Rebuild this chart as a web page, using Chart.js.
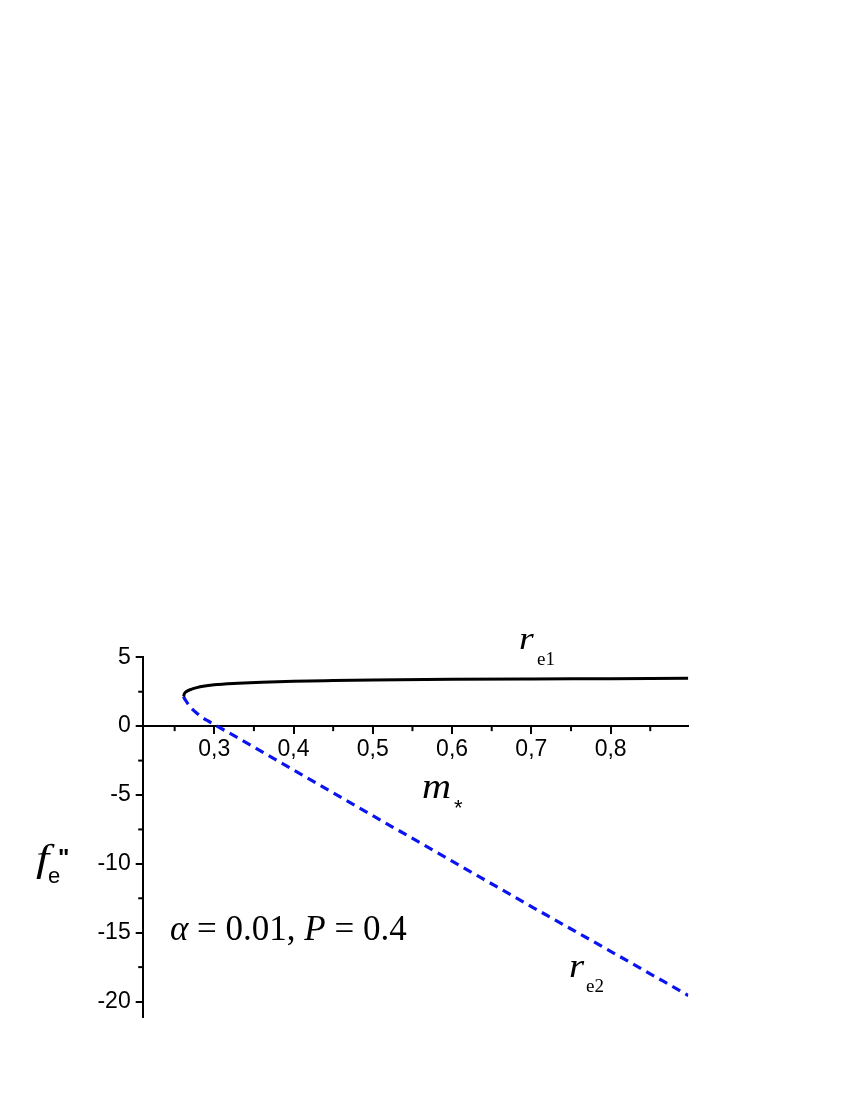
<!DOCTYPE html>
<html>
<head>
<meta charset="utf-8">
<script src="https://cdn.jsdelivr.net/npm/chart.js@4.4.1/dist/chart.umd.min.js"></script>
<style>
html,body{margin:0;padding:0;background:#fff;}
#wrap{position:relative;width:850px;height:1100px;}
</style>
</head>
<body>
<div id="wrap"><canvas id="c"></canvas></div>
<script>
// ---- data ----
const upperX = [0.2612, 0.2625, 0.265, 0.27, 0.278, 0.286, 0.3, 0.33, 0.36, 0.4, 0.45, 0.5, 0.6, 0.7, 0.8, 0.898];
const upperY = [2.15, 2.38, 2.52, 2.66, 2.8, 2.9, 3.0, 3.11, 3.19, 3.26, 3.31, 3.35, 3.4, 3.43, 3.45, 3.47];
const lowerX = [0.2612, 0.263, 0.267, 0.272, 0.278, 0.285, 0.292, 0.3, 0.33, 0.35, 0.4, 0.5, 0.6, 0.7, 0.8, 0.898];
const lowerY = [2.15, 1.95, 1.6, 1.25, 0.94, 0.63, 0.38, 0.12, -0.86, -1.52, -3.18, -6.5, -9.8, -13.1, -16.35, -19.56];
const xMin = 0.2097, xMax = 0.898, xStep = 0.05;
const yMin = -21.1, yMax = 5, yStep = 2.5;

const toPts = (xs, ys) => xs.map((x, i) => ({x: x, y: ys[i]}));
const isMajor = (v, unit) => Math.abs(v / unit - Math.round(v / unit)) < 1e-6;
const commaFmt = v => v.toFixed(1).replace('.', ',');

function wideText(ctx, font, txt, x, y, sx) {
  ctx.save();
  ctx.font = font;
  ctx.translate(x, y);
  ctx.scale(sx, 1);
  ctx.fillText(txt, 0, 0);
  ctx.restore();
}

const annot = {
  id: 'annot',
  afterDraw(chart) {
    const ctx = chart.ctx;
    const xs = chart.scales.x, ys = chart.scales.y;
    ctx.save();
    // minor ticks
    ctx.strokeStyle = '#000';
    ctx.lineWidth = 2;
    const y0 = ys.getPixelForValue(0);
    xs.ticks.forEach(t => {
      if (!isMajor(t.value, 0.1)) {
        const px = xs.getPixelForValue(t.value);
        ctx.beginPath(); ctx.moveTo(px, y0); ctx.lineTo(px, y0 + 5); ctx.stroke();
      }
    });
    const xl = chart.chartArea.left;
    ys.ticks.forEach(t => {
      if (!isMajor(t.value, 5)) {
        const py = ys.getPixelForValue(t.value);
        ctx.beginPath(); ctx.moveTo(xl, py); ctx.lineTo(xl - 4.5, py); ctx.stroke();
      }
    });
    // texts
    ctx.fillStyle = '#000';
    ctx.textBaseline = 'alphabetic';
    ctx.textAlign = 'left';
    const serif = '"Liberation Serif", "Times New Roman", serif';
    const sans = '"Liberation Sans", Arial, sans-serif';
    // r_e1
    wideText(ctx, 'italic 32px ' + serif, 'r', 519, 649, 1.18);
    ctx.font = '19px ' + serif; ctx.fillText('e1', 537, 665);
    // r_e2
    wideText(ctx, 'italic 33px ' + serif, 'r', 569, 977, 1.18);
    ctx.font = '19px ' + serif; ctx.fillText('e2', 586, 992);
    // m_*
    wideText(ctx, 'italic 35px ' + serif, 'm', 422, 798, 1.15);
    ctx.font = '22px ' + sans; ctx.fillText('*', 454, 815);
    // f_e''
    wideText(ctx, 'italic 38px ' + serif, 'f', 36, 871, 1.25);
    ctx.font = '22px ' + sans; ctx.fillText('e', 48, 883);
    ctx.font = 'bold 24px ' + sans; ctx.fillText('"', 58, 866);
    // alpha line
    let x = 170; const bl = 939.5;
    const parts = [['italic', 'α'], ['', ' = 0.01, '], ['italic', 'P'], ['', ' = 0.4']];
    parts.forEach(p => {
      ctx.font = (p[0] ? p[0] + ' ' : '') + '35px ' + serif;
      ctx.fillText(p[1], x, bl);
      x += ctx.measureText(p[1]).width;
    });
    ctx.restore();
  }
};

new Chart(document.getElementById('c'), {
  type: 'scatter',
  data: {
    datasets: [
      {data: toPts(upperX, upperY), showLine: true, borderColor: '#000', borderWidth: 3,
       pointRadius: 0, cubicInterpolationMode: 'monotone', fill: false},
      {data: toPts(lowerX, lowerY), showLine: true, borderColor: '#0a14f0', borderWidth: 3.2,
       borderDash: [9, 6], pointRadius: 0, cubicInterpolationMode: 'monotone', fill: false}
    ]
  },
  options: {
    responsive: true,
    maintainAspectRatio: false,
    animation: false,
    events: [],
    layout: {padding: {left: 0, top: 657.3, right: 161.7, bottom: 83.3}},
    plugins: {legend: {display: false}, tooltip: {enabled: false}, title: {display: false}},
    scales: {
      x: {
        type: 'linear', min: xMin, max: xMax,
        position: {y: 0},
        grid: {display: true, drawOnChartArea: false, tickLength: 7, lineWidth: 2,
               tickColor: c => (c.tick && isMajor(c.tick.value, 0.1)) ? '#000' : 'rgba(0,0,0,0)'},
        border: {display: true, color: '#000', width: 2},
        ticks: {stepSize: xStep, includeBounds: false, autoSkip: false, maxRotation: 0, padding: 3,
                color: '#000', font: {family: '"Liberation Sans", Arial, sans-serif', size: 23},
                callback: v => isMajor(v, 0.1) ? commaFmt(v) : ''}
      },
      y: {
        type: 'linear', min: yMin, max: yMax, position: 'left',
        afterFit: s => { s.width = 142.7; },
        grid: {display: true, drawOnChartArea: false, tickLength: 7, lineWidth: 2,
               tickColor: c => (c.tick && isMajor(c.tick.value, 5)) ? '#000' : 'rgba(0,0,0,0)'},
        border: {display: true, color: '#000', width: 2},
        ticks: {stepSize: yStep, includeBounds: false, autoSkip: false, padding: 5,
                color: '#000', font: {family: '"Liberation Sans", Arial, sans-serif', size: 23},
                callback: v => isMajor(v, 5) ? String(Math.round(v)) : ''}
      }
    }
  },
  plugins: [annot]
});
</script>
</body>
</html>
